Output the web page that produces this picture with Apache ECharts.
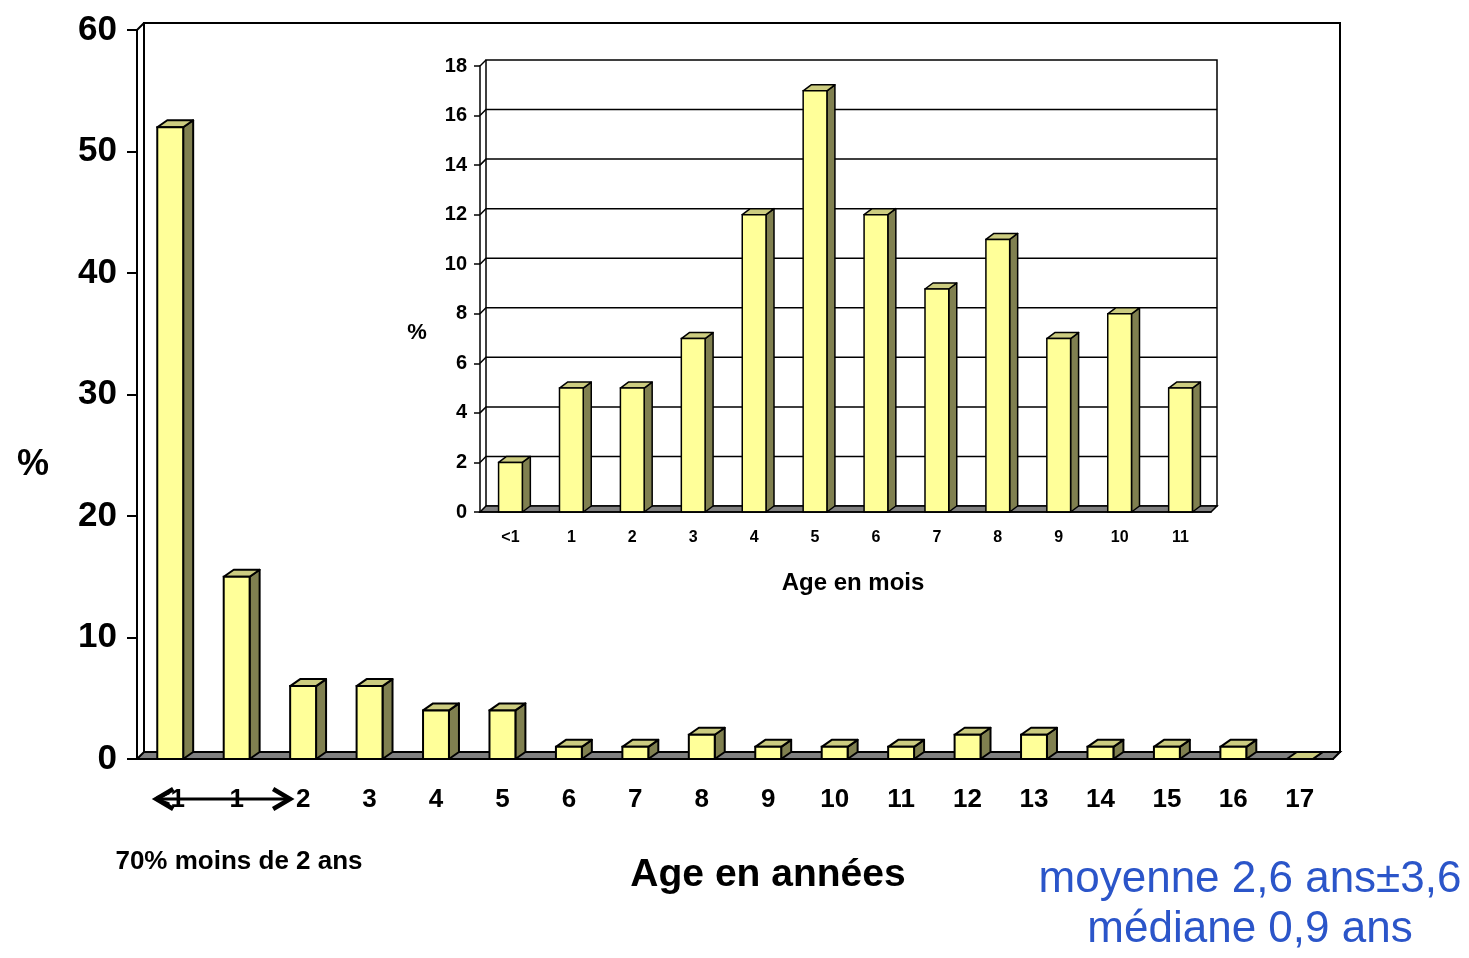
<!DOCTYPE html>
<html>
<head>
<meta charset="utf-8">
<script src="https://cdn.jsdelivr.net/npm/echarts@6/dist/echarts.min.js"></script>
<style>
html,body{margin:0;padding:0;background:#fff;}
#c{width:1469px;height:958px;}
</style>
</head>
<body>
<div id="c"></div>
<script>
// ---- data ----
var yearCats = ['<1','1','2','3','4','5','6','7','8','9','10','11','12','13','14','15','16','17'];
var yearVals = [52,15,6,6,4,4,1,1,2,1,1,1,2,2,1,1,1,0];
var yearTicks = [0,10,20,30,40,50,60];

var monthCats = ['<1','1','2','3','4','5','6','7','8','9','10','11'];
var monthVals = [2,5,5,7,12,17,12,9,11,7,8,5];
var monthTicks = [0,2,4,6,8,10,12,14,16,18];

var ARIAL = '"Liberation Sans",Arial,sans-serif';

function bar3d(dx, dy, ratio, lw){
  return function(params, api){
    var cat = api.value(0), v = api.value(1);
    var top = api.coord([cat, v]);
    var base = api.coord([cat, 0]);
    var bw = api.size([1,0])[0]*ratio;
    var x0 = top[0]-bw/2, x1 = top[0]+bw/2, yT = top[1], yB = base[1];
    var children = [];
    children.push({type:'polygon', shape:{points:[[x1,yT],[x1+dx,yT+dy],[x1+dx,yB+dy],[x1,yB]]},
      style:{fill:'#808050', stroke:'#000', lineWidth:lw, lineJoin:'round'}});
    children.push({type:'polygon', shape:{points:[[x0,yT],[x0+dx,yT+dy],[x1+dx,yT+dy],[x1,yT]]},
      style:{fill:'#cccc80', stroke:'#000', lineWidth:lw, lineJoin:'round'}});
    if (yB-yT > 0.5) {
      children.push({type:'rect', shape:{x:x0,y:yT,width:bw,height:yB-yT},
        style:{fill:'#ffff99', stroke:'#000', lineWidth:lw}});
    }
    return {type:'group', children:children};
  };
}

function frame(ox, oy, lw, grids){
  return function(params, api){
    var cs = params.coordSys;
    var x = cs.x, y = cs.y, w = cs.width, h = cs.height;
    var ch = [];
    ch.push({type:'polygon', shape:{points:[[x+ox,y+oy],[x+w+ox,y+oy],[x+w+ox,y+h+oy],[x+ox,y+h+oy]]},
      style:{fill:'#fff', stroke:'#000', lineWidth:lw}});
    ch.push({type:'line', shape:{x1:x,y1:y,x2:x+ox,y2:y+oy}, style:{fill:'none', stroke:'#000', lineWidth:lw}});
    (grids||[]).forEach(function(g){
      var p = api.coord([0, g]);
      ch.push({type:'polyline', shape:{points:[[x,p[1]],[x+ox,p[1]+oy],[x+w+ox,p[1]+oy]]},
        style:{fill:'none', stroke:'#000', lineWidth:lw}});
    });
    ch.push({type:'polygon', shape:{points:[[x,y+h],[x+ox,y+h+oy],[x+w+ox,y+h+oy],[x+w,y+h]]},
      style:{fill:'#808080', stroke:'#000', lineWidth:lw}});
    return {type:'group', children:ch};
  };
}

function txt(id, text, x, y, size, weight, color){
  return {id:id, text:text, left:x, top:y, textAlign:'center', textVerticalAlign:'middle', padding:0,
    textStyle:{fontSize:size, fontWeight:weight, color:color, fontFamily:ARIAL}};
}

var chart = echarts.init(document.getElementById('c'), null, {renderer:'canvas'});
var option = {
  backgroundColor:'#fff',
  animation:false,
  title:[
    txt('pm', '%', 33, 465, 36, 'bold', '#000'),
    txt('pi', '%', 417, 333, 22, 'bold', '#000'),
    txt('am', 'Age en mois', 853, 583, 24, 'bold', '#000'),
    txt('aa', 'Age en années', 768, 875, 39, 'bold', '#000'),
    txt('m2', '70% moins de 2 ans', 239, 862, 26, 'bold', '#000'),
    txt('mo', 'moyenne 2,6 ans±3,6', 1250, 880, 44, 'normal', '#2b55c9'),
    txt('me', 'médiane 0,9 ans', 1250, 930, 44, 'normal', '#2b55c9')
  ],
  grid:[
    {left:137, top:30, width:1196, height:729},
    {left:480, top:66, width:731, height:446}
  ],
  xAxis:[
    {type:'category', gridIndex:0, data:yearCats, z:2,
     axisLine:{lineStyle:{color:'#000', width:2}},
     axisTick:{length:10, lineStyle:{color:'#000', width:2}},
     axisLabel:{color:'#000', fontFamily:ARIAL, fontWeight:'bold', fontSize:26, margin:28, interval:0}},
    {type:'category', gridIndex:1, data:monthCats, z:6,
     axisLine:{lineStyle:{color:'#000', width:1.5}},
     axisTick:{length:8, lineStyle:{color:'#000', width:1.5}},
     axisLabel:{color:'#000', fontFamily:ARIAL, fontWeight:'bold', fontSize:16, margin:18, interval:0}}
  ],
  yAxis:[
    {type:'value', gridIndex:0, min:yearTicks[0], max:yearTicks[yearTicks.length-1], interval:yearTicks[1]-yearTicks[0], z:2,
     splitLine:{show:false},
     axisLine:{show:true, lineStyle:{color:'#000', width:2}},
     axisTick:{show:true, length:10, lineStyle:{color:'#000', width:2}},
     axisLabel:{color:'#000', fontFamily:ARIAL, fontWeight:'bold', fontSize:35, margin:20}},
    {type:'value', gridIndex:1, min:monthTicks[0], max:monthTicks[monthTicks.length-1], interval:monthTicks[1]-monthTicks[0], z:6,
     splitLine:{show:false},
     axisLine:{show:true, lineStyle:{color:'#000', width:1.5}},
     axisTick:{show:true, length:6, lineStyle:{color:'#000', width:1.5}},
     axisLabel:{color:'#000', fontFamily:ARIAL, fontWeight:'bold', fontSize:20, margin:13}}
  ],
  series:[
    {type:'custom', xAxisIndex:0, yAxisIndex:0, z:1, silent:true,
     renderItem:frame(7,-7,2,[]), data:[[0,0]]},
    {type:'custom', xAxisIndex:0, yAxisIndex:0, z:3, silent:true,
     renderItem:bar3d(10,-7,0.39,2),
     encode:{x:0,y:1},
     data:yearVals.map(function(v,i){return [i,v];})},
    {type:'custom', xAxisIndex:1, yAxisIndex:1, z:4, silent:true,
     renderItem:frame(6,-6,1.5,monthTicks.slice(1,-1)), data:[[0,0]]},
    {type:'custom', xAxisIndex:1, yAxisIndex:1, z:5, silent:true,
     renderItem:bar3d(8,-6,0.39,1.5),
     encode:{x:0,y:1},
     data:monthVals.map(function(v,i){return [i,v];})}
  ]
};
chart.setOption(option);

// double arrow under the first categories ("<1" to "2")
var xa = chart.convertToPixel({xAxisIndex:0}, 0) - 16;
var xb = chart.convertToPixel({xAxisIndex:0}, 2) - 11;
var ya = 799;
chart.setOption({graphic:[
  {id:'arrow', type:'group', z:20, children:[
    {type:'line', shape:{x1:xa+3,y1:ya,x2:xb-3,y2:ya}, style:{stroke:'#000', lineWidth:3}},
    {type:'polyline', shape:{points:[[xa+19,ya-10],[xa+2,ya],[xa+19,ya+10]]}, style:{stroke:'#000', lineWidth:4.5, fill:null}},
    {type:'polyline', shape:{points:[[xb-19,ya-10],[xb-2,ya],[xb-19,ya+10]]}, style:{stroke:'#000', lineWidth:4.5, fill:null}}
  ]}
]});
</script>
</body>
</html>
